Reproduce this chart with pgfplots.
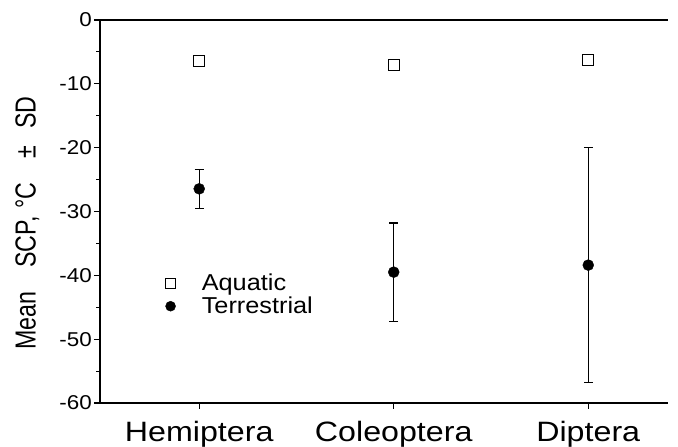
\documentclass[border=0pt]{standalone}
\usepackage{fontspec}
\setmainfont{Liberation Sans}
\newfontfamily\tickfont[FakeStretch=1.12]{Liberation Sans}
\newfontfamily\xlabfont[FakeStretch=1.15]{Liberation Sans}
\newfontfamily\ylabfont[FakeStretch=0.8]{Liberation Sans}
\newfontfamily\legfont[FakeStretch=1.1]{Liberation Sans}
\usepackage{pgfplots}
\pgfplotsset{compat=1.18}
\usetikzlibrary{calc}
\begin{document}
\begin{tikzpicture}
\begin{axis}[
  scale only axis, width=568bp, height=383bp,
  xmin=-0.51, xmax=2.41, ymin=-60, ymax=0,
  axis x line*=bottom, axis y line*=left,
  axis line style={-, line width=1.3bp, black},
  ytick={-60,-50,...,0}, minor ytick={-55,-45,...,-5},
  xtick={0,1,2}, xticklabels={Hemiptera,Coleoptera,Diptera},
  tick align=outside,
  major tick length=6bp, minor tick length=3.5bp,
  every tick/.style={line width=1.1bp, black},
  /pgf/number format/assume math mode=true,
  yticklabel style={font=\tickfont\fontsize{20bp}{24bp}\selectfont, inner sep=2bp},
  xticklabel style={font=\xlabfont\fontsize{28bp}{32bp}\selectfont, inner sep=0pt, yshift=-12bp},
  ylabel={Mean\hspace{24bp}SCP,\hspace{8bp}°C\hspace{24bp}±\hspace{17bp}SD},
  ylabel style={font=\ylabfont\fontsize{29bp}{32bp}\selectfont, at={(axis description cs:-0.128,0.47)}, anchor=center},
  legend entries={Aquatic, Terrestrial},
  legend style={draw=none, fill=none, at={(axis description cs:0.113,0.34)}, anchor=north west,
    font=\legfont\fontsize{23bp}{24bp}\selectfont, inner sep=0pt, row sep=3bp, nodes={inner sep=1bp}},
  legend cell align=left,
  legend image code/.code={\draw[mark repeat=2, mark phase=2, #1, mark size=5bp] plot coordinates {(-12bp,0bp)(0bp,0bp)(12bp,0bp)}; \path (-6bp,0bp) (30bp,0bp);},
]
\addplot[only marks, black, mark=square, mark size=5.5bp, mark options={line width=1bp, fill=white}]
  coordinates {(0,-6.4) (1,-7.0) (2,-6.3)};
\addplot[only marks, black, mark=*, mark size=5.5bp,
  error bars/.cd, y dir=both, y explicit,
  error bar style={line width=1.1bp, black},
  error mark options={rotate=90, mark size=4.5bp, line width=1.1bp, black}]
  coordinates {(0,-26.45) +- (0,3.05) (1,-39.5) +- (0,7.7) (2,-38.4) +- (0,18.4)};
\end{axis}
\draw[line width=1.3bp] (current axis.north west) -- (current axis.north east);
\pgfresetboundingbox
\path ($(current axis.south west)+(-100bp,-44bp)$) rectangle ($(current axis.north east)+(10bp,20bp)$);
\end{tikzpicture}
\end{document}
